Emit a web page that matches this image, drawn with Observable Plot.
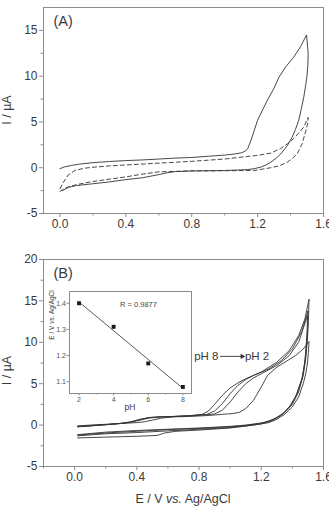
<!DOCTYPE html>
<html>
<head>
<meta charset="utf-8">
<script src="https://cdn.jsdelivr.net/npm/d3@7"></script>
<script src="https://cdn.jsdelivr.net/npm/@observablehq/plot@0.6"></script>
<style>
  body { margin: 0; background: #fff; }
  #fig { position: relative; width: 329px; height: 508px; overflow: hidden; }
  #fig svg { position: absolute; overflow: visible; }
</style>
</head>
<body>
<div id="fig"></div>
<script>
// ---- Panel (A): solid and dashed voltammograms (E in V, I in µA) ----
const aSolidE = [0.00, 0.03, 0.07, 0.12, 0.2, 0.3, 0.4, 0.5, 0.6, 0.7, 0.8, 0.9, 1.0,
  1.06, 1.1, 1.125, 1.14, 1.16, 1.18, 1.2, 1.23, 1.26, 1.3, 1.33, 1.37, 1.42, 1.46, 1.497,
  1.507, 1.505, 1.499, 1.49, 1.48, 1.465, 1.45, 1.43, 1.41, 1.38, 1.34, 1.31, 1.28, 1.25,
  1.22, 1.18, 1.14, 1.08, 1.0, 0.9, 0.8, 0.7, 0.65, 0.6, 0.5, 0.4, 0.3, 0.2, 0.1, 0.05, 0.015];
const aSolidI = [-0.1, 0.1, 0.25, 0.4, 0.55, 0.68, 0.78, 0.85, 0.95, 1.05, 1.12, 1.25, 1.38,
  1.5, 1.62, 1.8, 2.1, 3.0, 4.1, 5.2, 6.3, 7.4, 8.7, 9.9, 11.0, 12.1, 13.2, 14.5,
  12.5, 11.2, 9.9, 8.8, 7.7, 6.4, 5.2, 4.2, 3.35, 2.4, 1.5, 1.0, 0.6, 0.3,
  0.07, -0.1, -0.2, -0.25, -0.3, -0.33, -0.35, -0.42, -0.55, -0.75, -1.1, -1.3, -1.55, -1.75, -1.95, -2.15, -2.5];

const aDashE = [0.0, 0.02, 0.05, 0.09, 0.15, 0.2, 0.3, 0.4, 0.6, 0.8, 1.0, 1.1, 1.2, 1.28,
  1.34, 1.38, 1.42, 1.46, 1.48, 1.507,
  1.505, 1.494, 1.47, 1.44, 1.41, 1.38, 1.33, 1.28, 1.18, 1.0,
  0.8, 0.6, 0.5, 0.4, 0.3, 0.2, 0.1, 0.05, 0.02, 0.0];
const aDashI = [-2.3, -1.6, -0.8, -0.3, -0.05, 0.05, 0.2, 0.3, 0.5, 0.7, 0.95, 1.15, 1.35, 1.6,
  2.1, 2.6, 3.2, 4.0, 4.45, 5.5,
  4.9, 4.1, 2.6, 1.5, 1.0, 0.6, 0.2, 0.0, -0.3, -0.33,
  -0.35, -0.45, -0.7, -1.0, -1.25, -1.5, -1.85, -2.1, -2.35, -2.6];

// ---- Panel (B): voltammograms recorded from pH 8 to pH 2 ----
const ph8E = [0.02, 0.1, 0.2, 0.3, 0.36, 0.42, 0.48, 0.55, 0.65, 0.75, 0.82, 0.86, 0.9, 0.95, 1.0,
  1.05, 1.1, 1.2, 1.3, 1.38, 1.44, 1.48, 1.507,
  1.503, 1.497, 1.487, 1.47, 1.44, 1.4, 1.35, 1.3, 1.25, 1.2, 1.1, 1.0, 0.9, 0.8, 0.6, 0.4, 0.2, 0.02];
const ph8I = [-0.15, -0.05, 0.05, 0.22, 0.4, 0.7, 0.92, 1.0, 1.05, 1.15, 1.3, 1.7, 2.5, 3.6, 4.5,
  5.1, 5.6, 6.4, 7.6, 9.0, 10.8, 12.8, 15.2,
  12.5, 10.5, 8.2, 6.0, 4.0, 2.5, 1.5, 0.9, 0.5, 0.25, 0.0, -0.15, -0.25, -0.35, -0.5, -0.65, -0.85, -1.15];

const ph6E = [0.02, 0.1, 0.2, 0.3, 0.36, 0.42, 0.48, 0.55, 0.65, 0.75, 0.85, 0.9, 0.95, 1.0, 1.05,
  1.1, 1.15, 1.25, 1.33, 1.4, 1.46, 1.5,
  1.498, 1.493, 1.482, 1.465, 1.43, 1.39, 1.34, 1.28, 1.22, 1.12, 1.0, 0.8, 0.6, 0.4, 0.2, 0.02];
const ph6I = [-0.2, -0.1, 0.05, 0.2, 0.35, 0.65, 0.9, 1.0, 1.05, 1.15, 1.3, 1.7, 2.6, 3.8, 4.8,
  5.5, 6.0, 6.8, 7.8, 9.2, 11.3, 13.8,
  11.8, 10.0, 8.0, 5.8, 3.8, 2.4, 1.4, 0.7, 0.3, 0.0, -0.2, -0.4, -0.55, -0.75, -0.95, -1.2];

const ph4E = [0.02, 0.1, 0.2, 0.3, 0.36, 0.42, 0.48, 0.55, 0.65, 0.75, 0.85, 0.9, 0.95, 1.0, 1.05,
  1.1, 1.15, 1.2, 1.3, 1.38, 1.44, 1.497,
  1.495, 1.49, 1.48, 1.46, 1.42, 1.38, 1.33, 1.27, 1.2, 1.1, 1.0, 0.8, 0.6, 0.5, 0.4, 0.2, 0.02];
const ph4I = [-0.2, -0.1, 0.05, 0.2, 0.35, 0.6, 0.85, 0.98, 1.05, 1.12, 1.25, 1.35, 1.8, 2.8, 4.0,
  5.0, 5.7, 6.2, 7.2, 8.4, 10.0, 13.2,
  11.5, 10.0, 7.5, 5.5, 3.4, 2.2, 1.2, 0.55, 0.15, -0.1, -0.3, -0.5, -0.7, -0.8, -0.9, -1.05, -1.3];

const ph2E = [0.02, 0.1, 0.2, 0.3, 0.4, 0.45, 0.5, 0.56, 0.65, 0.75, 0.85, 0.95, 1.02, 1.06, 1.1,
  1.15, 1.2, 1.24, 1.3, 1.36, 1.42, 1.47, 1.507,
  1.503, 1.497, 1.487, 1.47, 1.44, 1.4, 1.35, 1.3, 1.25, 1.15, 1.0, 0.8, 0.65, 0.58, 0.53, 0.4, 0.2, 0.02];
const ph2I = [-0.1, 0.0, 0.1, 0.2, 0.3, 0.4, 0.6, 0.85, 1.0, 1.05, 1.15, 1.3, 1.4, 1.55, 2.0,
  3.0, 4.6, 6.0, 7.0, 7.7, 8.4, 9.2, 10.1,
  8.8, 7.5, 6.3, 5.0, 3.4, 2.2, 1.3, 0.7, 0.3, 0.0, -0.35, -0.6, -0.75, -0.95, -1.25, -1.35, -1.45, -1.55];

// pH shift annotation
const shiftLabels = ["pH 8", "pH 2"];
const shiftArrowE = [0.935, 1.09];
const shiftI = 8.3;

// ---- Inset: peak potential versus pH ----
const insetPH = [2, 4, 6, 8];
const insetEp = [1.40, 1.31, 1.17, 1.08];
const insetR = "R = 0.9877";

// ---- Ticks ----
const aXTicks = [0, 0.4, 0.8, 1.2, 1.6];
const aXMinor = [0.2, 0.6, 1.0, 1.4];
const aYTicks = [-5, 0, 5, 10, 15];
const aYMinor = [-2.5, 2.5, 7.5, 12.5];
const bXTicks = [0, 0.4, 0.8, 1.2, 1.6];
const bXMinor = [-0.2, 0.2, 0.6, 1.0, 1.4];
const bYTicks = [-5, 0, 5, 10, 15, 20];
const bYMinor = [-2.5, 2.5, 7.5, 12.5, 17.5];
const insetXTicks = [2, 4, 6, 8];
const insetXMinor = [3, 5, 7];
const insetYTicks = [1.1, 1.2, 1.3, 1.4];

// ---- Drawing ----
const FONT = "'Liberation Sans', Arial, Helvetica, sans-serif";
const frameGray = "#8c8c8c";
const ink = "#333";
const textInk = "#3a3a3a";

const rows = (E, I, key) => E.map((e, i) => ({E: e, I: I[i], key}));
const fig = document.getElementById("fig");

function panel(o) {
  return Plot.plot({
    width: 329, height: o.height,
    marginLeft: 43, marginRight: 6, marginTop: o.marginTop, marginBottom: o.marginBottom,
    style: {fontFamily: FONT, fontSize: "12px", color: textInk, background: "transparent", overflow: "visible"},
    x: {domain: o.xDomain},
    y: {domain: o.yDomain},
    marks: [
      Plot.frame({stroke: frameGray}),
      Plot.axisX(o.xMinor, {tickSize: 2.5, fill: "none", label: null, stroke: frameGray}),
      Plot.axisX(o.xTicks, {tickSize: 4, tickPadding: 2, tickFormat: d3.format(".1f"), label: null, stroke: frameGray, fill: textInk}),
      Plot.axisY(o.yMinor, {tickSize: 2.5, fill: "none", label: null, stroke: frameGray}),
      Plot.axisY(o.yTicks, {tickSize: 4, tickPadding: 2, tickFormat: d => String(d), label: null, stroke: frameGray, fill: textInk}),
      Plot.text([o.tag], {frameAnchor: "top-left", dx: 10, dy: 8, lineAnchor: "top", textAnchor: "start",
        text: d => d, fontSize: 14.5, fill: textInk}),
      ...o.marks
    ]
  });
}

function addLabel(svg, x, y, parts, size, rotate = 0) {
  const t = d3.select(svg).append("text")
    .attr("transform", `translate(${x},${y})` + (rotate ? ` rotate(${rotate})` : ""))
    .attr("text-anchor", "middle")
    .attr("font-family", FONT)
    .attr("font-size", size)
    .attr("fill", textInk);
  for (const [s, italic] of parts) {
    t.append("tspan").attr("font-style", italic ? "italic" : null).text(s);
  }
}
const mid = r => (r[0] + r[1]) / 2;
const eLabel = [["E / V ", false], ["vs.", true], [" Ag/AgCl", false]];

// Panel (A)
const chartA = panel({
  height: 240, marginTop: 7, marginBottom: 27,
  xDomain: [-0.1, 1.6], yDomain: [-5, 17.5],
  xTicks: aXTicks, xMinor: aXMinor, yTicks: aYTicks, yMinor: aYMinor,
  tag: "(A)",
  marks: [
    Plot.line(rows(aDashE, aDashI, "dashed"), {x: "E", y: "I", stroke: ink, strokeWidth: 0.9, strokeDasharray: "4,3"}),
    Plot.line(rows(aSolidE, aSolidI, "solid"), {x: "E", y: "I", stroke: ink, strokeWidth: 0.9})
  ]
});
chartA.style.left = "0px";
chartA.style.top = "0px";
fig.appendChild(chartA);
addLabel(chartA, 10.5, mid(chartA.scale("y").range), [["I / µA", false]], 12.5, -90);

// Panel (B)
const bRows = [
  ...rows(ph8E, ph8I, "pH 8"),
  ...rows(ph6E, ph6I, "pH 6"),
  ...rows(ph4E, ph4I, "pH 4"),
  ...rows(ph2E, ph2I, "pH 2")
];
const chartB = panel({
  height: 268, marginTop: 19, marginBottom: 42,
  xDomain: [-0.2, 1.6], yDomain: [-5, 20],
  xTicks: bXTicks, xMinor: bXMinor, yTicks: bYTicks, yMinor: bYMinor,
  tag: "(B)",
  marks: [
    Plot.line(bRows, {x: "E", y: "I", z: "key", stroke: ink, strokeWidth: 0.9}),
    Plot.text([{t: shiftLabels[0], E: shiftArrowE[0] - 0.01, I: shiftI}],
      {x: "E", y: "I", text: "t", textAnchor: "end", fontSize: 11.5, fill: textInk}),
    Plot.text([{t: shiftLabels[1], E: shiftArrowE[1] + 0.005, I: shiftI}],
      {x: "E", y: "I", text: "t", textAnchor: "start", fontSize: 11.5, fill: textInk}),
    Plot.link([{x1: shiftArrowE[0], x2: shiftArrowE[1], y: shiftI}],
      {x1: "x1", x2: "x2", y1: "y", y2: "y", stroke: ink, strokeWidth: 0.9}),
    Plot.dot([{x: shiftArrowE[1], y: shiftI}],
      {x: "x", y: "y", symbol: "triangle2", rotate: 90, r: 2.6, fill: ink, stroke: "none", dx: -2})
  ]
});
chartB.style.left = "0px";
chartB.style.top = "240px";
fig.appendChild(chartB);
addLabel(chartB, 10.5, mid(chartB.scale("y").range) + 8, [["I / µA", false]], 12.5, -90);
addLabel(chartB, mid(chartB.scale("x").range), 263, eLabel, 12.5);

// Inset
const insetRows = insetPH.map((p, i) => ({pH: p, Ep: insetEp[i]}));
const inset = Plot.plot({
  width: 150, height: 128, marginLeft: 24, marginRight: 4, marginTop: 6, marginBottom: 20,
  style: {fontFamily: FONT, fontSize: "7px", color: "#555", background: "transparent", overflow: "visible"},
  x: {domain: [1.45, 8.5]},
  y: {domain: [1.055, 1.445]},
  marks: [
    Plot.frame({fill: "white", stroke: frameGray}),
    Plot.axisX(insetXMinor, {tickSize: 1.5, fill: "none", label: null, stroke: frameGray}),
    Plot.axisX(insetXTicks, {tickSize: 2.5, tickPadding: 1, label: null, stroke: frameGray, fill: "#555"}),
    Plot.axisY(insetYTicks, {tickSize: 2.5, tickPadding: 1, tickFormat: d3.format(".1f"), label: null, stroke: frameGray, fill: "#555"}),
    Plot.linearRegressionY(insetRows, {x: "pH", y: "Ep", ci: 0, stroke: "#444", strokeWidth: 0.9}),
    Plot.dot(insetRows, {x: "pH", y: "Ep", symbol: "square", r: 2.2, fill: "#1a1a1a", stroke: "none"}),
    Plot.text([insetR], {frameAnchor: "top", dx: 8, dy: 13, lineAnchor: "middle", text: d => d, fontSize: 7.5, fill: "#444"})
  ]
});
inset.style.left = "45px";
inset.style.top = "285px";
fig.appendChild(inset);
addLabel(inset, 9, 30, eLabel, 6.5, -90);
addLabel(inset, mid(inset.scale("x").range), 124.5, [["pH", false]], 8.5);
</script>
</body>
</html>
